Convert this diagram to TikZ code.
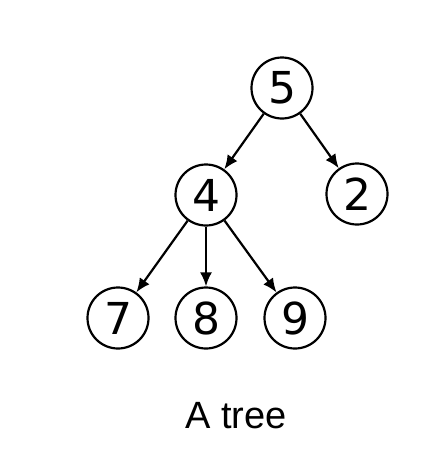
\documentclass[tikz,border=0pt]{standalone}
\usepackage{fontspec}
\setmainfont{Liberation Sans}
\newfontfamily\digitfont{DejaVu Sans}
\usetikzlibrary{positioning, arrows.meta}

\begin{document}
\begin{tikzpicture}[x=1pt, y=-1pt,
        vert/.style={draw, circle, line width=2.2pt, minimum size=61pt, inner sep=0pt, font=\digitfont\fontsize{44}{44}\selectfont},
        edge/.style={line width=2.2pt, -{Latex[length=14pt, width=12pt]}}]
            \useasboundingbox (0,0) rectangle (442,458);

            \node[vert] (5) at (282,88) {5};
            \node[vert] (4) at (206,195) {4};
            \node[vert] (2) at (357,194) {2};
            \node[vert] (7) at (118,318) {7};
            \node[vert] (8) at (206,318) {8};
            \node[vert] (9) at (295,318) {9};

            % Draw edges
            \draw[edge] (5) -- (4);
            \draw[edge] (5) -- (2);
            \draw[edge] (4) -- (7);
            \draw[edge] (4) -- (8);
            \draw[edge] (4) -- (9);

            \node[font=\fontsize{38}{38}\selectfont, anchor=base] (cap) at (236,428) {A tree};

        \end{tikzpicture}
\end{document}
